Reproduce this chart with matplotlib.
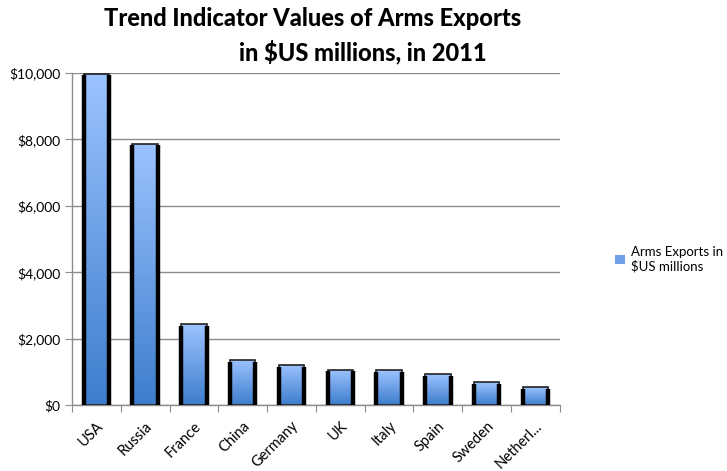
import numpy as np
import matplotlib
matplotlib.use("Agg")
import matplotlib.pyplot as plt
from matplotlib.colors import LinearSegmentedColormap
from matplotlib.patches import Rectangle
from matplotlib.ticker import FuncFormatter

countries = ['USA', 'Russia', 'France', 'China', 'Germany', 'UK', 'Italy', 'Spain', 'Sweden', 'Netherl...']
exports = [9984, 7874, 2437, 1356, 1206, 1070, 1046, 927, 686, 538]

plt.rcParams['font.family'] = ['Lato', 'DejaVu Sans']

fig = plt.figure(figsize=(7.27, 4.71), dpi=100)
ax = fig.add_axes([0.099, 0.140, 0.671, 0.705])

x = np.arange(len(countries))
width = 0.52
grad = LinearSegmentedColormap.from_list('g', ['#3d7dcc', '#9cc3ff'])
img = np.linspace(0, 1, 256).reshape(-1, 1)

bars = ax.bar(x, exports, width=width, color='none', edgecolor='#222222', linewidth=1.2, zorder=3)
for b in bars:
    bx, by = b.get_x(), b.get_y()
    bw, bh = b.get_width(), b.get_height()
    im = ax.imshow(img, cmap=grad, origin='lower', aspect='auto',
                   extent=[bx, bx + bw, by, by + bh], zorder=2)
    clip = Rectangle((bx, by), bw, bh, transform=ax.transData)
    im.set_clip_path(clip)
    # thick dark sides like the original 3d-ish bars
    ax.vlines([bx, bx + bw], by, by + bh - 45, colors='black', linewidth=3.2, zorder=4)

ax.set_xlim(-0.5, len(countries) - 0.5)
ax.set_ylim(0, 10000)
ax.set_yticks(np.arange(0, 10001, 2000))
ax.yaxis.set_major_formatter(FuncFormatter(lambda v, p: '${:,.0f}'.format(v)))
ax.grid(axis='y', color='#8c8c8c', linewidth=1.0, zorder=0)
ax.set_axisbelow(True)

ax.set_xticks(np.arange(-0.5, len(countries), 1.0))
ax.set_xticklabels([])
ax.set_xticks(x, minor=True)
ax.set_xticklabels(countries, minor=True, rotation=45, ha='right', rotation_mode='anchor', fontsize=10.5)
ax.tick_params(axis='x', which='minor', length=0, pad=10)
ax.tick_params(axis='x', which='major', length=5, color='#8c8c8c')
ax.tick_params(axis='y', length=5, color='#8c8c8c', labelsize=10)

for s in ['top', 'right']:
    ax.spines[s].set_visible(False)
for s in ['left', 'bottom']:
    ax.spines[s].set_color('#8c8c8c')
    ax.spines[s].set_linewidth(1.0)

fig.text(313 / 727, 1 - 19 / 471, 'Trend Indicator Values of Arms Exports', ha='center', va='center',
         fontsize=17, fontweight='black')
fig.text(363 / 727, 1 - 52 / 471, 'in $US millions, in 2011', ha='center', va='center',
         fontsize=17, fontweight='black')

handle = Rectangle((0, 0), 1, 1, facecolor='#6fa0e8', edgecolor='none')
fig.legend([handle], ['Arms Exports in\n$US millions'], loc='center left',
           bbox_to_anchor=(0.83, 0.45), frameon=False, fontsize=9.5,
           handlelength=0.7, handleheight=0.7, handletextpad=0.5)

fig.savefig('out.png', dpi=100)
